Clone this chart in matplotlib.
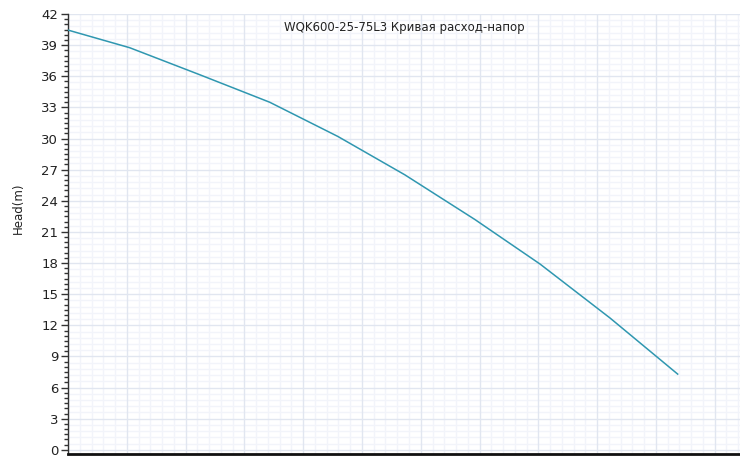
import numpy as np
import matplotlib
matplotlib.use("Agg")
import matplotlib.pyplot as plt
from matplotlib.ticker import MultipleLocator, NullFormatter

# data
flow = [0, 105, 224, 343, 459, 573, 692, 803, 922, 1037]
head = [40.45, 38.75, 36.15, 33.5, 30.2, 26.5, 22.2, 17.9, 12.7, 7.3]

title = "WQK600-25-75L3 Кривая расход-напор"
ylabel = "Head(m)"

fig = plt.figure(figsize=(7.4, 4.57), dpi=100)
ax = fig.add_axes([68 / 740, 3 / 457, 672 / 740, 440 / 457])

ax.set_xlim(0, 1143)
ax.set_ylim(-0.4, 42)

# grid: vertical majors every 100, minors 5 per major
ax.xaxis.set_major_locator(MultipleLocator(100))
ax.xaxis.set_minor_locator(MultipleLocator(20))
ax.yaxis.set_major_locator(MultipleLocator(3))
ax.yaxis.set_minor_locator(MultipleLocator(0.5))
ax.xaxis.set_major_formatter(NullFormatter())
ax.tick_params(axis="x", which="both", length=0)
ax.tick_params(axis="y", which="major", length=5, width=1, color="#333333",
               labelsize=9.5, labelcolor="#222222", pad=2)
ax.tick_params(axis="y", which="minor", length=3, width=1, color="#333333")

ax.grid(True, which="major", color="#e1e6f0", lw=1.0)
ax.grid(True, which="minor", axis="x", color="#f2f4fa", lw=1.0)
for yy in np.arange(0, 42, 0.6):
    if abs(yy / 3 - round(yy / 3)) > 1e-6:
        ax.axhline(yy, color="#f2f4fa", lw=1.0, zorder=0)
ax.set_axisbelow(True)

for s in ("top", "right"):
    ax.spines[s].set_visible(False)
ax.spines["left"].set_color("#333333")
ax.spines["left"].set_linewidth(1.0)
ax.spines["bottom"].set_color("#111111")
ax.spines["bottom"].set_linewidth(2.0)

ax.plot(flow, head, color="#2f97b0", lw=1.1, zorder=3)

ax.text(0.5, 0.985, title, transform=ax.transAxes, ha="center", va="top",
        fontsize=8.5, color="#222222")
fig.text(18 / 740, 0.545, ylabel, rotation=90, ha="center", va="center",
         fontsize=8.5, color="#222222")

fig.savefig("out.png", dpi=100)
